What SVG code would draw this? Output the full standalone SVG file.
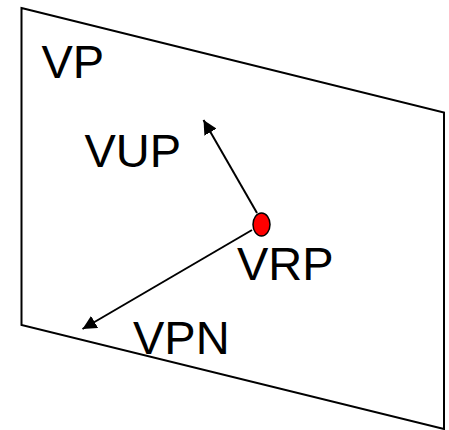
<svg xmlns="http://www.w3.org/2000/svg" width="449" height="430" viewBox="0 0 449 430">
<style>
.lbl{font-family:"Liberation Sans",Arial,sans-serif;font-size:47px;fill:#000}
.ln{stroke:#000;stroke-width:2;fill:none}
</style>
<defs>
<marker id="ah" viewBox="0 0 10 10" refX="10" refY="5" markerWidth="14" markerHeight="14" markerUnits="userSpaceOnUse" orient="auto">
<path d="M0,0 L10,5 L0,10 Z" fill="#000"/>
</marker>
</defs>
<rect width="449" height="430" fill="#fff"/>
<g id="VP">
<polygon class="ln" points="21.5,8 444,112.5 444,429 21.5,325"/>
<text class="lbl" x="41.5" y="78">VP</text>
</g>
<g id="connectors">
<line class="ln" x1="257" y1="213" x2="203.5" y2="120" marker-end="url(#ah)"/>
<line class="ln" x1="252" y1="230" x2="82.5" y2="329" marker-end="url(#ah)"/>
</g>
<g id="VRP">
<ellipse cx="261.5" cy="224.5" rx="8.5" ry="11.5" fill="#f00" stroke="#000" stroke-width="1.5"/>
<text class="lbl" x="237" y="280">VRP</text>
</g>
<g id="VUP">
<text class="lbl" x="84.5" y="167">VUP</text>
</g>
<g id="VPN">
<text class="lbl" x="133" y="354">VPN</text>
</g>
</svg>
